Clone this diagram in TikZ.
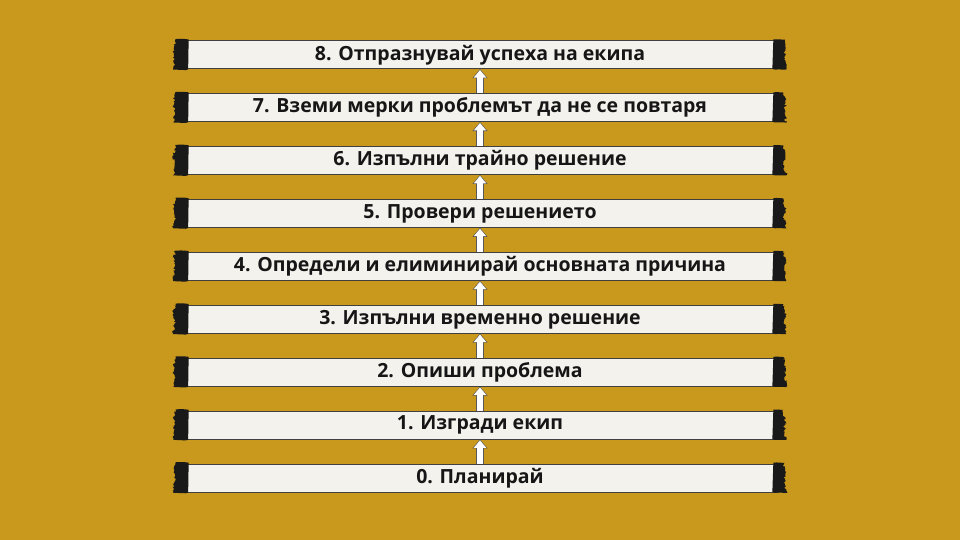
\documentclass[tikz,border=0pt]{standalone}
\usepackage{fontspec}
\setmainfont{Open Sans}
\usetikzlibrary{positioning,arrows.meta,decorations.pathmorphing,calc}
\definecolor{mustard}{RGB}{201,153,29}
\definecolor{paper}{RGB}{243,242,237}
\definecolor{ink}{RGB}{22,22,22}

\begin{document}
\begin{tikzpicture}[x=1pt,y=1pt,node distance=24.2pt,
  bar/.style={fill=paper,draw=black!75,line width=0.7pt,minimum width=596pt,minimum height=28pt,
    inner sep=0pt,text=ink,font=\bfseries\fontsize{19.5}{21}\selectfont},
  brush/.style={fill=black!90,decoration={random steps,segment length=1.5pt,amplitude=1.6pt}},
  uparrow/.style={white,line width=6.4pt,shorten >=0.9pt,-{Triangle[width=12pt,length=7.5pt]},
    preaction={draw=black!65,line width=8pt,shorten >=0pt,-{Triangle[width=14.5pt,length=9pt]}}}]
\pgfmathsetseed{11}
%\draw[help lines,step=20](0,0)grid(960,540);
\fill[mustard] (0,0) rectangle (960,540);

\node[bar] (s0) at (480,62) {0. Планирай};
\node[bar,above=of s0] (s1) {1. Изгради екип};
\node[bar,above=of s1] (s2) {2. Опиши проблема};
\node[bar,above=of s2] (s3) {3. Изпълни временно решение};
\node[bar,above=of s3] (s4) {4. Определи и елиминирай основната причина};
\node[bar,above=of s4] (s5) {5. Провери решението};
\node[bar,above=of s5] (s6) {6. Изпълни трайно решение};
\node[bar,above=of s6] (s7) {7. Вземи мерки проблемът да не се повтаря};
\node[bar,above=of s7] (s8) {8. Отпразнувай успеха на екипа};

% brush ends
\foreach \i in {0,...,8}{
  \fill[brush] ($(s\i.north west)+(7,1)$) .. controls ++(-6,1) and ++(2,0) .. ++(-13,0.4)
    decorate{-- ++(-2,-10) -- ++(1,-10) -- ++(-1.5,-10.5)} -- ++(9,-0.4) .. controls ++(3,0) and ++(-2,-1) .. ++(6,0.5) -- cycle;
  \fill[brush] ($(s\i.north east)+(-5,1)$) .. controls ++(4,0.5) and ++(-2,0) .. ++(10,-0.2)
    decorate{-- ++(2,-11) -- ++(-1,-9) -- ++(2,-10)} -- ++(-8,0.2) .. controls ++(-3,0) and ++(2,-1) .. ++(-6,0.5) -- cycle;
}

\foreach \i [evaluate=\i as \j using int(\i+1)] in {0,...,7}
  \draw[uparrow] (s\i.north) -- (s\j.south);

\end{tikzpicture}
\end{document}
